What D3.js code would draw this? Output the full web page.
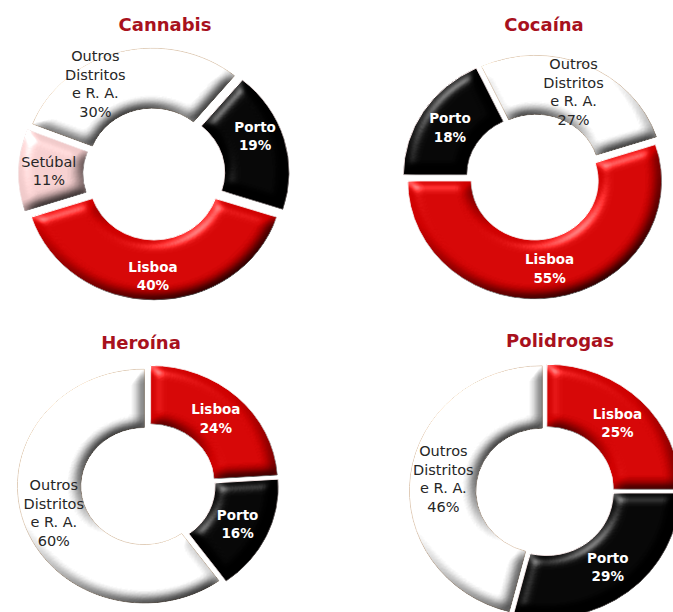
<!DOCTYPE html>
<html>
<head>
<meta charset="utf-8">
<script src="https://cdn.jsdelivr.net/npm/d3@7/dist/d3.min.js"></script>
<style>
  html, body { margin: 0; padding: 0; background: #ffffff; }
  svg { display: block; }
</style>
</head>
<body>
<svg id="chart" width="673" height="612"></svg>
<script>
// ---- data ----
const drugTitles = ["Cannabis", "Cocaína", "Heroína", "Polidrogas"];

const cannabisRegions = ["Porto", "Lisboa", "Setúbal", "Outros Distritos e R. A."];
const cannabisValues  = [19, 40, 11, 30];

const cocainaRegions  = ["Lisboa", "Porto", "Outros Distritos e R. A."];
const cocainaValues   = [55, 18, 27];

const heroinaRegions  = ["Lisboa", "Porto", "Outros Distritos e R. A."];
const heroinaValues   = [24, 16, 60];

const polidrogasRegions = ["Lisboa", "Porto", "Outros Distritos e R. A."];
const polidrogasValues  = [25, 29, 46];

// label lines for each region name
const regionLabelLines = {
  "Lisboa": ["Lisboa"],
  "Porto": ["Porto"],
  "Setúbal": ["Setúbal"],
  "Outros Distritos e R. A.": ["Outros", "Distritos", "e R. A."]
};

// ---- styling ----
const regionColor = d3.scaleOrdinal()
  .domain(["Lisboa", "Porto", "Setúbal", "Outros Distritos e R. A."])
  .range(["#cf0000", "#000000", "#efc9c9", "#ffffff"]);
const darkText = new Set(["Setúbal", "Outros Distritos e R. A."]);

// panel geometry: centre, radii (rings are drawn slightly wide), explosion, first slice angle
const panels = [
  { cx: 154, cy: 174, rx: 129, ry: 120, explode: 6,   start: 39.6, tx: 165, ty: 31,
    nudge: { "Porto": [2, -11], "Lisboa": [-1, 6], "Setúbal": [-2, 0], "Outros Distritos e R. A.": [-33, 3] } },
  { cx: 534, cy: 177, rx: 127, ry: 118, explode: 4,   start: 72,   tx: 544, ty: 31, nudge: {} },
  { cx: 148, cy: 485, rx: 127, ry: 117, explode: 3.5, start: 0,    tx: 141, ty: 349, nudge: {} },
  { cx: 545, cy: 491, rx: 133, ry: 125, explode: 2.5, start: 0,    tx: 560, ty: 347, nudge: {} }
];

const series = [
  { regions: cannabisRegions,   values: cannabisValues },
  { regions: cocainaRegions,    values: cocainaValues },
  { regions: heroinaRegions,    values: heroinaValues },
  { regions: polidrogasRegions, values: polidrogasValues }
];

const svg = d3.select("#chart");
const FONT = "'DejaVu Sans', Verdana, sans-serif";

// bevelled, lit look for the ring slices
const defs = svg.append("defs");
const f = defs.append("filter").attr("id", "bevel")
  .attr("x", "-15%").attr("y", "-15%").attr("width", "130%").attr("height", "130%")
  .attr("color-interpolation-filters", "sRGB");
f.append("feGaussianBlur").attr("in", "SourceAlpha").attr("stdDeviation", 6).attr("result", "b");
f.append("feDiffuseLighting").attr("in", "b").attr("surfaceScale", 5).attr("diffuseConstant", 1.41)
  .attr("lighting-color", "#ffffff").attr("result", "d")
  .append("feDistantLight").attr("azimuth", 235).attr("elevation", 45);
f.append("feSpecularLighting").attr("in", "b").attr("surfaceScale", 5).attr("specularConstant", 0.6)
  .attr("specularExponent", 35).attr("lighting-color", "#ffffff").attr("result", "s")
  .append("feDistantLight").attr("azimuth", 235).attr("elevation", 45);
f.append("feComposite").attr("in", "SourceGraphic").attr("in2", "d").attr("operator", "arithmetic")
  .attr("k1", 1).attr("k2", 0).attr("k3", 0).attr("k4", 0).attr("result", "lit");
f.append("feComposite").attr("in", "s").attr("in2", "SourceAlpha").attr("operator", "in").attr("result", "sIn");
f.append("feComposite").attr("in", "lit").attr("in2", "sIn").attr("operator", "arithmetic")
  .attr("k1", 0).attr("k2", 1).attr("k3", 0.8).attr("k4", 0).attr("result", "sum");
f.append("feComposite").attr("in", "sum").attr("in2", "SourceAlpha").attr("operator", "in");

const rad = Math.PI / 180;

panels.forEach((p, i) => {
  const s = series[i];
  const data = s.regions.map((r, k) => ({ region: r, value: s.values[k] }));
  const pie = d3.pie().value(d => d.value).sort(null)
    .startAngle(p.start * rad).endAngle(p.start * rad + 2 * Math.PI);
  const arcs = pie(data);

  const outerR = p.ry, innerR = p.ry * 0.5;
  const arc = d3.arc().innerRadius(innerR).outerRadius(outerR);
  const sx = p.rx / p.ry;

  const g = svg.append("g").attr("transform", `translate(${p.cx},${p.cy}) scale(${sx},1)`);

  g.selectAll("path").data(arcs).join("path")
    .attr("transform", d => {
      const m = (d.startAngle + d.endAngle) / 2;
      return `translate(${p.explode * Math.sin(m)},${-p.explode * Math.cos(m)})`;
    })
    .attr("d", arc)
    .attr("fill", d => regionColor(d.data.region))
    .attr("stroke", d => d.data.region.startsWith("Outros") ? "#dcc6b0" : "#f4e2e2")
    .attr("stroke-width", 0.9)
    .attr("filter", "url(#bevel)");

  // data labels at the slice centroids
  const lh = 18.5;
  const lab = svg.append("g");
  arcs.forEach(d => {
    const m = (d.startAngle + d.endAngle) / 2;
    const rm = (outerR + innerR) / 2 + p.explode;
    const n = p.nudge[d.data.region] || [0, 0];
    const x = p.cx + sx * rm * Math.sin(m) + n[0];
    const y = p.cy - rm * Math.cos(m) + n[1];
    const lines = regionLabelLines[d.data.region].concat([d.data.value + "%"]);
    const dark = darkText.has(d.data.region);
    const t = lab.append("text")
      .attr("text-anchor", "middle")
      .attr("font-family", FONT)
      .attr("font-size", dark ? 14.5 : 13.5)
      .attr("font-weight", dark ? "normal" : "bold")
      .attr("fill", dark ? "#262626" : "#ffffff");
    lines.forEach((ln, k) => {
      t.append("tspan")
        .attr("x", x)
        .attr("y", y + (k - (lines.length - 1) / 2) * lh)
        .attr("dominant-baseline", "central")
        .text(ln);
    });
  });

  svg.append("text")
    .attr("x", p.tx).attr("y", p.ty)
    .attr("text-anchor", "middle")
    .attr("font-family", FONT)
    .attr("font-size", 18)
    .attr("font-weight", "bold")
    .attr("fill", "#a8111d")
    .text(drugTitles[i]);
});
</script>
</body>
</html>
